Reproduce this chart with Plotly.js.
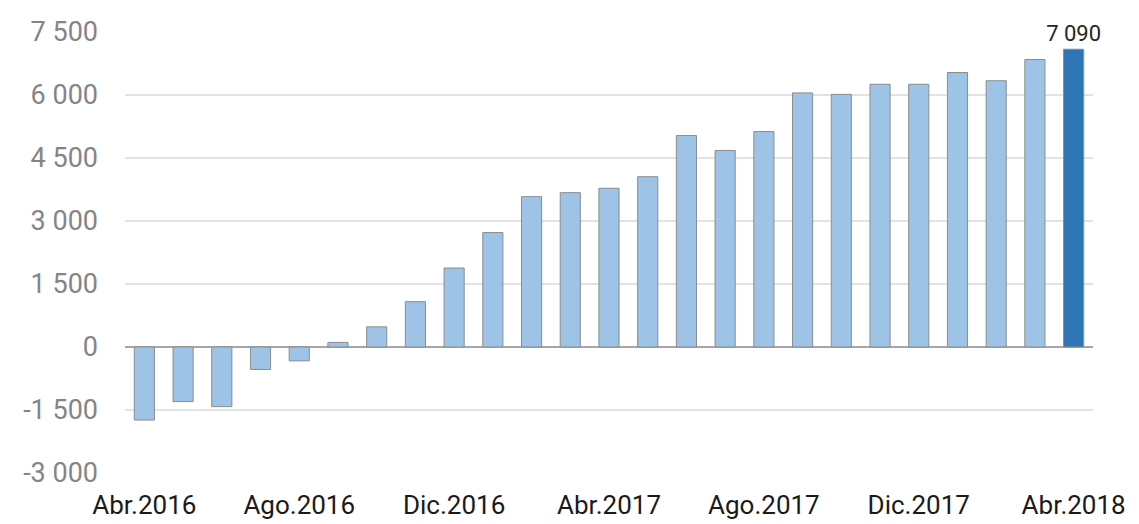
<!DOCTYPE html>
<html>
<head>
<meta charset="utf-8">
<script src="https://cdn.plot.ly/plotly-3.0.1.min.js"></script>
<style>html,body{margin:0;padding:0;background:#fff;}#chart{width:1139px;height:524px;}</style>
</head>
<body>
<div id="chart"></div>
<script>
const months = ["Abr.2016","May.2016","Jun.2016","Jul.2016","Ago.2016","Set.2016","Oct.2016","Nov.2016","Dic.2016",
  "Ene.2017","Feb.2017","Mar.2017","Abr.2017","May.2017","Jun.2017","Jul.2017","Ago.2017","Set.2017","Oct.2017","Nov.2017","Dic.2017",
  "Ene.2018","Feb.2018","Mar.2018","Abr.2018"];
const values = [-1740,-1300,-1420,-535,-330,110,480,1080,1880,
  2725,3580,3675,3780,4055,5035,4680,5130,6050,6015,6255,6255,
  6535,6340,6845,7090];
const xTickLabels = ["Abr.2016","Ago.2016","Dic.2016","Abr.2017","Ago.2017","Dic.2017","Abr.2018"];
const yTickVals = [-3000,-1500,0,1500,3000,4500,6000,7500];
const yTickText = ["-3 000","-1 500","0","1 500","3 000","4 500","6 000","7 500"];

const fmt = v => String(v).replace(/\B(?=(\d{3})+(?!\d))/g, " ");
const last = values.length - 1;
const colors = values.map((v,i) => i === last ? "#2e75b6" : "#9dc3e6");
const texts = values.map((v,i) => i === last ? fmt(v) : "");

const trace = {
  type: "bar",
  x: months,
  y: values,
  marker: {color: colors, line: {color: "#8c8c8c", width: 1}},
  text: texts,
  textposition: "outside",
  constraintext: "none",
  textfont: {family: "Roboto", size: 22, color: "#262626"},
  cliponaxis: false,
  hoverinfo: "x+y"
};

const layout = {
  width: 1139, height: 524,
  margin: {l: 125, r: 46, t: 32, b: 51},
  paper_bgcolor: "#ffffff", plot_bgcolor: "#ffffff",
  showlegend: false,
  bargap: 0.48,
  font: {family: "Roboto", color: "#222"},
  xaxis: {
    type: "category",
    tickmode: "array", tickvals: xTickLabels, ticktext: xTickLabels,
    tickfont: {family: "Roboto", size: 26, color: "#1a1a1a"},
    showgrid: false, zeroline: false, showline: false, ticks: "",
    ticklabelstandoff: 14
  },
  yaxis: {
    range: [-3000, 7500],
    tickmode: "array", tickvals: yTickVals, ticktext: yTickText,
    tickfont: {family: "Roboto", size: 27, color: "#858585"},
    showgrid: true, gridcolor: "#e3e3e3", gridwidth: 2,
    zeroline: true, zerolinecolor: "#a6a6a6", zerolinewidth: 2,
    showline: false, ticks: "",
    ticklabelstandoff: 26
  }
};

Plotly.newPlot("chart", [trace], layout, {displayModeBar: false, staticPlot: true});
</script>
</body>
</html>
